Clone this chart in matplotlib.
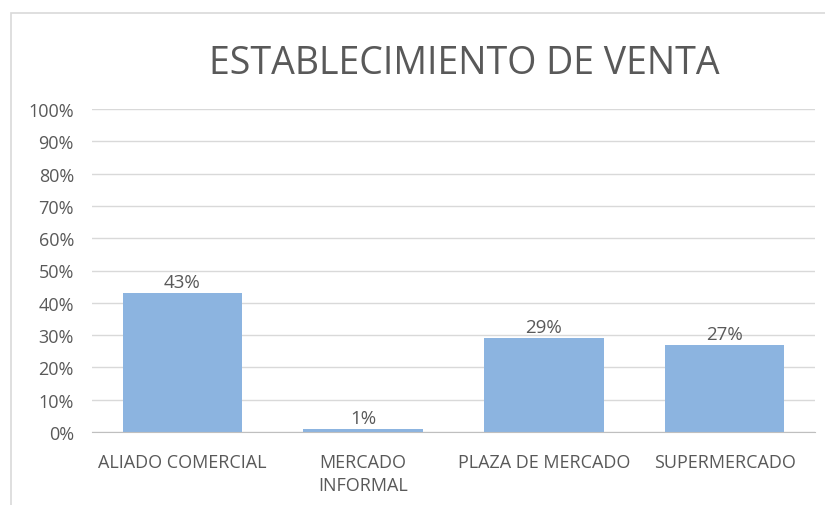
import matplotlib.pyplot as plt
from matplotlib.patches import Rectangle

categories = ['ALIADO COMERCIAL', 'MERCADO\nINFORMAL', 'PLAZA DE MERCADO', 'SUPERMERCADO']
values = [43, 1, 29, 27]
labels = ['43%', '1%', '29%', '27%']
ticks = list(range(0, 101, 10))

text_color = '#595959'
plt.rcParams['font.family'] = ['Open Sans', 'DejaVu Sans']

fig = plt.figure(figsize=(8.25, 5.06), dpi=100)
# light frame of the chart area (cropped on right and bottom)
fig.patches.append(Rectangle((11 / 825, -0.1), 1.2, 1.1 - 14 / 506, transform=fig.transFigure,
                             fill=False, edgecolor='#d9d9d9', linewidth=1.2))

ax = fig.add_axes([92 / 825, 1 - 433 / 506, (815 - 92) / 825, (433 - 110) / 506])
x = range(len(categories))
ax.bar(x, values, width=0.66, color='#8cb4e0', zorder=3)

for i, v in enumerate(values):
    ax.text(i, v + 0.6, labels[i], ha='center', va='bottom', fontsize=13.5, color=text_color)

ax.set_xlim(-0.5, 3.5)
ax.set_ylim(0, 100)
ax.set_yticks(ticks)
ax.set_yticklabels([f'{t}%' for t in ticks], fontsize=13, color=text_color)
ax.set_xticks(list(x))
ax.set_xticklabels(categories, fontsize=13, color=text_color, linespacing=1.35)
ax.tick_params(length=0, pad=13)
ax.tick_params(axis='x', pad=15)
ax.grid(axis='y', color='#d9d9d9', linewidth=1, zorder=0)
for s in ['top', 'right', 'left']:
    ax.spines[s].set_visible(False)
ax.spines['bottom'].set_color('#bfbfbf')
ax.spines['bottom'].set_zorder(4)

fig.text(464 / 825, 1 - 64 / 506, 'ESTABLECIMIENTO DE VENTA', ha='center', va='center',
         fontsize=27, color=text_color)

fig.savefig('out.png', dpi=100)
